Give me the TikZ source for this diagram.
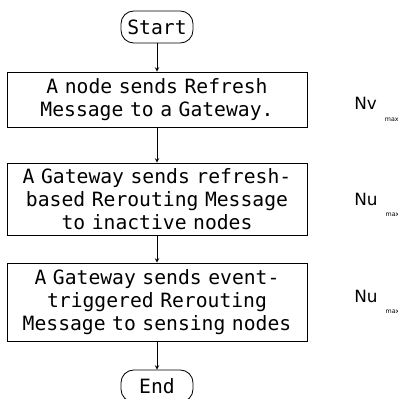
\documentclass[tikz,border=0pt]{standalone}
\usepackage{fontspec}
\newfontfamily\flowfont{DejaVu Sans Mono}
\newfontfamily\boundfont{DejaVu Sans}
\usetikzlibrary{positioning}
\newcommand{\bound}[1]{#1\hspace{0.2cm}\raisebox{-0.28cm}{\fontsize{4.5}{5}\selectfont max}}

\begin{document}
\begin{tikzpicture}[x=0.025cm, y=-0.025cm,
    flowbox/.style={draw, line width=0.6pt, minimum width=7.5cm, text width=7.2cm, align=center, inner xsep=0.15cm, inner ysep=0cm, font=\flowfont\fontsize{14}{16.4}\selectfont},
    terminal/.style={draw, line width=0.6pt, rounded corners=0.32cm, minimum width=1.8cm, minimum height=0.8cm, inner sep=0cm, font=\flowfont\fontsize{14}{16.4}\selectfont},
    limit/.style={anchor=base west, inner sep=0cm, font=\boundfont\fontsize{12}{14}\selectfont}]

    \useasboundingbox (0,0) rectangle (398,399);

    \node [terminal] (start) at (157,27) {Start};

    \node [flowbox, minimum height=1.375cm] (send) at (157,99.5) {A node sends Refresh\\Message to a Gateway.};
    \node [flowbox, minimum height=1.8cm] (refresh) at (157,199) {A Gateway sends refresh-\\based Rerouting Message\\to inactive nodes};
    \node [flowbox, minimum height=1.95cm] (event) at (157,302) {A Gateway sends event-\\triggered Rerouting\\Message to sensing nodes};

    \node [terminal] (end) at (157,386) {End};

    \node [limit] (nv) at (354,110) {\bound{Nv}};
    \node [limit] (nu1) at (354,205) {\bound{Nu}};
    \node [limit] (nu2) at (354,302) {\bound{Nu}};

    \draw [->,>=stealth] (start) -- (send);
    \draw [->,>=stealth] (send) -- (refresh);
    \draw [->,>=stealth] (refresh) -- (event);
    \draw [->,>=stealth] (event) -- (end);

\end{tikzpicture}
\end{document}
